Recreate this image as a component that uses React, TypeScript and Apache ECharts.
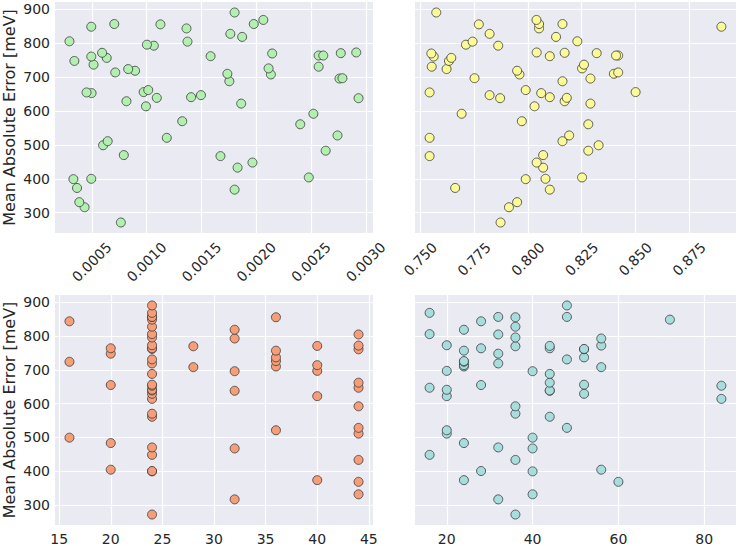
import React, { useEffect, useRef } from "react";
import * as echarts from "echarts";

// Shared target: mean absolute error of each run [meV]
const mae = [
  271, 316, 331, 368, 373, 399, 400, 404, 433, 448,
  467, 470, 483, 499, 511, 521, 528, 561, 570, 592,
  614, 622, 629, 638, 639, 641, 647, 653, 655, 656,
  662, 688, 696, 697, 708, 710, 714, 719, 724, 726,
  731, 737, 748, 757, 761, 762, 764, 764, 770, 771,
  772, 773, 793, 796, 805, 806, 819, 828, 844, 849,
  856, 857, 857, 869, 891,
];

// Hyper-parameter of each run (same order as mae)
const learningRate = [
  0.000765, 0.000434, 0.000386, 0.001803, 0.000365, 0.000332, 0.000495, 0.00248, 0.00183, 0.001966,
  0.001674, 0.000792, 0.002634, 0.000603, 0.000645, 0.001184, 0.002742, 0.002402, 0.001325, 0.002522,
  0.000994, 0.001863, 0.000816, 0.002934, 0.001093, 0.001406, 0.001496, 0.000498, 0.000452, 0.000973,
  0.001015, 0.001755, 0.00276, 0.002787, 0.002134, 0.001737, 0.000714, 0.000895, 0.000832, 0.002113,
  0.00257, 0.000516, 0.000341, 0.000636, 0.000495, 0.001584, 0.00257, 0.002612, 0.002146, 0.002772,
  0.000594, 0.002913, 0.001066, 0.001003, 0.001373, 0.000296, 0.001872, 0.001764, 0.001364, 0.000495,
  0.001126, 0.000705, 0.001978, 0.002065, 0.001803,
];

const ratio = [
  0.7873, 0.7912, 0.795, 0.8102, 0.7662, 0.799, 0.8082, 0.8252, 0.8071, 0.8041,
  0.7543, 0.8071, 0.8281, 0.8329, 0.8161, 0.7543, 0.8192, 0.8281, 0.7972, 0.7692,
  0.8031, 0.8291, 0.8171, 0.7871, 0.8181, 0.8102, 0.7822, 0.8062, 0.7543, 0.8501,
  0.799, 0.8161, 0.8291, 0.7752, 0.7961, 0.84, 0.842, 0.795, 0.7622, 0.8252,
  0.7553, 0.8261, 0.7633, 0.7644, 0.7562, 0.8102, 0.842, 0.841, 0.7551, 0.832,
  0.8171, 0.8041, 0.7862, 0.7712, 0.7743, 0.823, 0.8131, 0.7822, 0.8052, 0.89,
  0.7772, 0.8052, 0.8161, 0.804, 0.7574,
];

const batchSize = [
  24, 32, 44, 44, 40, 24, 24, 20, 44, 24,
  32, 24, 20, 16, 44, 36, 44, 24, 24, 44,
  24, 40, 24, 32, 24, 24, 44, 24, 20, 24,
  44, 24, 32, 40, 28, 36, 40, 24, 16, 36,
  24, 36, 20, 36, 44, 24, 20, 24, 28, 40,
  44, 24, 32, 24, 44, 24, 32, 24, 16, 24,
  36, 24, 24, 24, 24,
];

const hiddenSize = [
  36, 32, 40, 60, 24, 40, 28, 56, 36, 16,
  40, 32, 24, 40, 20, 20, 48, 44, 36, 36,
  84, 20, 52, 44, 44, 20, 16, 84, 28, 52,
  44, 44, 40, 20, 56, 24, 24, 32, 24, 24,
  48, 52, 32, 24, 52, 52, 28, 44, 36, 44,
  56, 20, 56, 36, 32, 16, 24, 36, 28, 72,
  36, 32, 48, 16, 48,
];

const yTicks = [300, 400, 500, 600, 700, 800, 900];
const lrTicks = [0.0005, 0.001, 0.0015, 0.002, 0.0025, 0.003];
const ratioTicks = [0.75, 0.775, 0.8, 0.825, 0.85, 0.875];
const batchTicks = [15, 20, 25, 30, 35, 40, 45];
const hiddenTicks = [20, 40, 60, 80];

const colors = ["#B2F0B0", "#FBFA96", "#F79E78", "#A8DDDD"];

const TEXT = "#262626";
const FONT = "DejaVu Sans";

function padRange(arr: number[]): [number, number] {
  const lo = Math.min(...arr);
  const hi = Math.max(...arr);
  const m = (hi - lo) * 0.05;
  return [lo - m, hi + m];
}

export default function App() {
  const ref = useRef<HTMLDivElement>(null);

  useEffect(() => {
    if (!ref.current) return;
    const chart = echarts.init(ref.current, null, { renderer: "svg" });

    const grids = [
      { left: 53, top: 2, width: 320, height: 231 },
      { left: 415, top: 2, width: 321, height: 231 },
      { left: 53, top: 295, width: 320, height: 232 },
      { left: 415, top: 295, width: 321, height: 232 },
    ].map((g) => ({
      ...g,
      show: true,
      backgroundColor: "#EAEAF2",
      borderWidth: 0,
      containLabel: false,
    }));

    const [yMin, yMax] = padRange(mae);
    const xs = [learningRate, ratio, batchSize, hiddenSize];
    const xTicks = [lrTicks, ratioTicks, batchTicks, hiddenTicks];
    const xFmt = [
      (v: number) => v.toFixed(4),
      (v: number) => v.toFixed(3),
      (v: number) => String(v),
      (v: number) => String(v),
    ];

    const xAxis = xs.map((arr, i) => {
      const [mn, mx] = padRange(arr);
      const rotated = i < 2;
      return {
        type: "value",
        gridIndex: i,
        min: mn,
        max: mx,
        axisLine: { show: false },
        axisTick: { show: false, customValues: xTicks[i] },
        axisLabel: {
          show: !rotated,
          customValues: xTicks[i],
          formatter: xFmt[i],
          color: TEXT,
          fontSize: 14,
          fontFamily: FONT,
          margin: 7,
        },
        splitLine: { show: true, lineStyle: { color: "#FFFFFF", width: 1.2 } },
      };
    });

    const yAxis = [0, 1, 2, 3].map((i) => {
      const left = i % 2 === 0;
      return {
        type: "value",
        gridIndex: i,
        min: yMin,
        max: yMax,
        name: left ? "Mean Absolute Error [meV]" : "",
        nameLocation: "middle",
        nameGap: 38,
        nameTextStyle: { color: TEXT, fontSize: 16, fontFamily: FONT },
        axisLine: { show: false },
        axisTick: { show: false, customValues: yTicks },
        axisLabel: {
          show: left,
          customValues: yTicks,
          color: TEXT,
          fontSize: 14,
          fontFamily: FONT,
          margin: 5,
        },
        splitLine: { show: true, lineStyle: { color: "#FFFFFF", width: 1.2 } },
      };
    });

    const series = xs.map((arr, i) => ({
      type: "scatter",
      xAxisIndex: i,
      yAxisIndex: i,
      symbol: "circle",
      symbolSize: 9,
      data: arr.map((x, k) => [x, mae[k]]),
      itemStyle: {
        color: colors[i],
        borderColor: "#3a3a3a",
        borderWidth: 0.8,
        opacity: 1,
      },
    }));

    chart.setOption({
      animation: false,
      textStyle: { fontFamily: FONT },
      grid: grids,
      xAxis,
      yAxis,
      series,
    });

    // Rotated tick labels (centred under each tick, like matplotlib's rotation=45)
    const rotatedLabels: any[] = [];
    [0, 1].forEach((i) => {
      const centreY = i === 0 ? 262 : 259;
      xTicks[i].forEach((v) => {
        const px = chart.convertToPixel({ xAxisIndex: i }, v) as number;
        rotatedLabels.push({
          type: "text",
          x: px,
          y: centreY,
          rotation: Math.PI / 4,
          silent: true,
          style: {
            text: xFmt[i](v),
            fill: TEXT,
            fontSize: 14,
            fontFamily: FONT,
            align: "center",
            verticalAlign: "middle",
          },
        });
      });
    });
    chart.setOption({ graphic: rotatedLabels });

    return () => chart.dispose();
  }, []);

  return (
    <div
      ref={ref}
      style={{ position: "fixed", left: 0, top: 0, width: 738, height: 546, background: "#FFFFFF" }}
    />
  );
}
